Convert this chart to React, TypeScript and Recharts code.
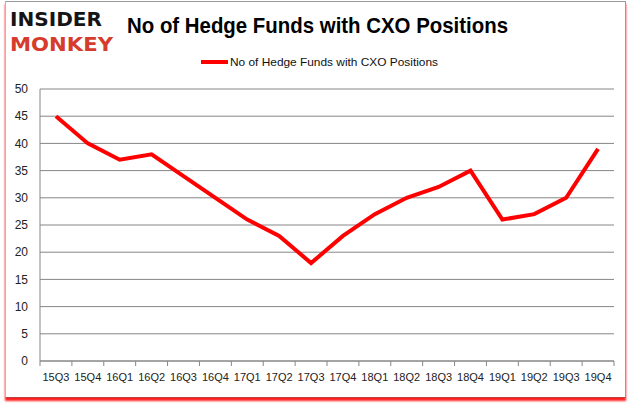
import React from 'react'
import { LineChart, Line, XAxis, YAxis, CartesianGrid } from 'recharts'

const QUARTERS = ['15Q3', '15Q4', '16Q1', '16Q2', '16Q3', '16Q4', '17Q1', '17Q2', '17Q3', '17Q4', '18Q1', '18Q2', '18Q3', '18Q4', '19Q1', '19Q2', '19Q3', '19Q4']
const FUNDS = [45, 40, 37, 38, 34, 30, 26, 23, 18, 23, 27, 30, 32, 35, 26, 27, 30, 39]
const Y_TICKS = [0, 5, 10, 15, 20, 25, 30, 35, 40, 45, 50]

const SERIES = 'No of Hedge Funds with CXO Positions'
const GRID = '#868686'
const BAND = 574 / QUARTERS.length

const data = QUARTERS.map((q, i) => ({ q, funds: FUNDS[i] }))

// excel style: tick marks sit between categories, label at the centre
const XTick = (props: any) => {
  const { x, y, payload, index } = props
  const axisY = y - 12
  const half = BAND / 2
  return (
    <g>
      <line x1={x - half} x2={x - half} y1={axisY} y2={axisY + 5} stroke={GRID} />
      {index === QUARTERS.length - 1 && (
        <line x1={x + half} x2={x + half} y1={axisY} y2={axisY + 5} stroke={GRID} />
      )}
      <text x={x} y={y} dy="0.71em" textAnchor="middle" fontSize={11} fill="#222">
        {payload.value}
      </text>
    </g>
  )
}

export default function App() {
  return (
    <div style={{ position: 'absolute', left: 0, top: 0, width: 635, height: 405, background: '#fff', fontFamily: '"Liberation Sans", Arial, sans-serif' }}>
      <div
        style={{
          position: 'absolute',
          left: 5,
          top: 1,
          width: 619,
          height: 395,
          borderTop: '1px solid #9a9a9a',
          borderRight: '1px solid #9a9a9a',
          borderLeft: '1px solid #e7a3a3',
          borderBottom: '1px solid #c04040',
          boxShadow: '0 3px 2px #ff2020',
        }}
      />
      <svg width={635} height={70} style={{ position: 'absolute', left: 0, top: 0 }}>
        <text x={10} y={26} fontSize={20} fontWeight={900} fill="#151515" fontFamily="'DejaVu Sans', sans-serif" textLength={92} lengthAdjust="spacingAndGlyphs">
          INSIDER
        </text>
        <text x={10} y={50.5} fontSize={20} fontWeight={900} fill="#d63c2c" fontFamily="'DejaVu Sans', sans-serif" textLength={103} lengthAdjust="spacingAndGlyphs">
          MONKEY
        </text>
        <text x={127} y={33} fontSize={22} fontWeight="bold" fill="#000" textLength={381} lengthAdjust="spacingAndGlyphs">
          {SERIES}
        </text>
        <line x1={201} x2={228} y1={62} y2={62} stroke="#ff0000" strokeWidth={4} />
        <text x={230} y={66} fontSize={11.5} fill="#111" textLength={208} lengthAdjust="spacingAndGlyphs">
          {SERIES}
        </text>
      </svg>
      <LineChart width={635} height={405} data={data} margin={{ top: 89, right: 21, bottom: 14, left: 0 }} style={{ position: 'absolute', left: 0, top: 0 }}>
        <CartesianGrid vertical={false} stroke={GRID} strokeWidth={1} />
        <XAxis
          dataKey="q"
          height={30}
          padding={{ left: BAND / 2, right: BAND / 2 }}
          stroke={GRID}
          tickLine={false}
          tickSize={5}
          tickMargin={7}
          interval={0}
          tick={<XTick />}
        />
        <YAxis
          width={40}
          domain={[0, 50]}
          ticks={Y_TICKS}
          stroke={GRID}
          tickLine={false}
          tickSize={0}
          tickMargin={12}
          tick={{ fontSize: 12, fill: '#222' }}
        />
        <Line type="linear" dataKey="funds" stroke="#ff0000" strokeWidth={4} dot={false} isAnimationActive={false} />
      </LineChart>
    </div>
  )
}
